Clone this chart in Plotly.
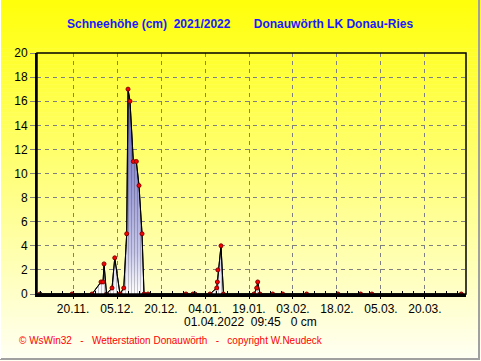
import plotly.graph_objects as go

# ---- data ----
times = [
    "2021-11-08 18:00", "2021-11-19 16:00", "2021-11-26 11:30",
    "2021-11-29 13:00", "2021-11-30 05:30", "2021-11-30 13:40", "2021-12-01 10:00",
    "2021-12-03 07:00", "2021-12-04 05:20", "2021-12-06 00:00",
    "2021-12-07 07:00", "2021-12-08 07:00", "2021-12-08 18:00", "2021-12-09 10:20",
    "2021-12-10 13:30", "2021-12-11 14:00", "2021-12-12 12:00", "2021-12-13 12:40",
    "2021-12-14 05:00", "2021-12-15 13:40", "2021-12-28 12:40", "2021-12-30 21:40",
    "2021-12-31 14:20", "2022-01-05 16:50", "2022-01-08 00:00", "2022-01-08 05:00",
    "2022-01-08 09:00", "2022-01-09 11:00", "2022-01-10 07:00", "2022-01-20 17:00",
    "2022-01-21 15:00", "2022-01-21 23:20", "2022-01-22 18:00", "2022-01-27 02:00",
    "2022-01-30 12:00", "2022-02-07 16:00", "2022-02-18 08:00", "2022-02-26 02:00",
    "2022-03-01 22:00", "2022-04-01 09:45",
]
snow_cm = [
    0, 0, 0,
    1.0, 1.0, 2.5, 0,
    0.5, 3.0, 0,
    0.5, 5.0, 17.0, 16.0,
    11.0, 11.0, 9.0, 5.0,
    0, 0, 0, 0,
    0, 0, 0.5, 1.0,
    2.0, 4.0, 0, 0,
    0.5, 1.0, 0, 0,
    0, 0, 0, 0,
    0, 0,
]
tick_dates = ["2021-11-20", "2021-12-05", "2021-12-20", "2022-01-04", "2022-01-19",
              "2022-02-03", "2022-02-18", "2022-03-05", "2022-03-20"]
tick_labels = ["20.11.", "05.12.", "20.12.", "04.01.", "19.01.",
               "03.02.", "18.02.", "05.03.", "20.03."]
y_ticks = list(range(0, 21, 2))
title_text = "Schneehöhe (cm)  2021/2022       Donauwörth LK Donau-Ries"
status_text = "01.04.2022  09:45   0 cm"
footer_text = "© WsWin32   -   Wetterstation Donauwörth   -   copyright W.Neudeck"

W, H = 481, 361
L, R, T, B = 37, 15, 53, 67
pw, ph = W - L - R, H - T - B

def px(x):
    return (x - L) / pw

def py(y):
    return (H - B - y) / ph

def nb(s):
    return s.replace(" ", "\u00a0")

fig = go.Figure()
fig.add_trace(go.Scatter(
    x=times, y=snow_cm, mode="lines",
    line=dict(color="black", width=1),
    fill="tozeroy",
    fillgradient=dict(type="vertical",
                      colorscale=[[0, "#ffffff"], [0.2, "#c8c8ec"], [1, "#5858b8"]],
                      start=0, stop=17),
    showlegend=False, hoverinfo="skip",
))
fig.add_trace(go.Scatter(
    x=times, y=snow_cm, mode="lines+markers",
    line=dict(color="black", width=1),
    fill="tozeroy", fillcolor="rgba(0,0,0,0)",
    fillpattern=dict(shape="|", size=3, solidity=0.25, fgcolor="rgba(0,0,0,0.55)",
                     bgcolor="rgba(0,0,0,0)"),
    marker=dict(color="#ff0000", size=4, line=dict(color="#800000", width=1)),
    showlegend=False, hoverinfo="x+y",
))

# background gradient bands (style only)
shapes = []
nb_bands = 90
for i in range(nb_bands):
    y0 = i * H / nb_bands
    y1 = (i + 1) * H / nb_bands + 0.5
    frac = (i + 0.5) / nb_bands
    b = int(10 + 235 * frac)
    shapes.append(dict(type="rect", xref="paper", yref="paper",
                       x0=px(0), x1=px(W), y0=py(y1), y1=py(y0),
                       fillcolor=f"rgb(255,255,{b})", line=dict(width=0), layer="below"))
# plot frame
shapes.append(dict(type="rect", xref="paper", yref="paper", x0=0, x1=1, y0=0, y1=1,
                   line=dict(color="black", width=1.5), layer="above"))
# window border
shapes.append(dict(type="line", xref="paper", yref="paper", x0=px(W - 2), x1=px(W - 2),
                   y0=py(0), y1=py(H - 1), line=dict(color="#a0a0a0", width=2)))
shapes.append(dict(type="line", xref="paper", yref="paper", x0=px(0), x1=px(W - 1),
                   y0=py(H - 2), y1=py(H - 2), line=dict(color="#a0a0a0", width=2)))
shapes.append(dict(type="line", xref="paper", yref="paper", x0=px(0.5), x1=px(0.5),
                   y0=py(0), y1=py(H - 2), line=dict(color="#ffffff", width=1)))

font_fam = "Liberation Sans, Arial, sans-serif"
annotations = [
    dict(text=nb(title_text), xref="paper", yref="paper", x=px(240), y=py(24),
         showarrow=False, xanchor="center", yanchor="middle",
         font=dict(family=font_fam, size=12, color="#1a1aff", weight="bold")),
    dict(text=nb(status_text), xref="paper", yref="paper", x=px(250), y=py(322),
         showarrow=False, xanchor="center", yanchor="middle",
         font=dict(family=font_fam, size=12, color="black")),
    dict(text=nb(footer_text), xref="paper", yref="paper", x=px(17), y=py(340),
         showarrow=False, xanchor="left", yanchor="middle",
         font=dict(family=font_fam, size=10, color="#ff0000")),
]

fig.update_layout(
    width=W, height=H,
    margin=dict(l=L, r=R, t=T, b=B, pad=0),
    paper_bgcolor="#ffffee", plot_bgcolor="rgba(0,0,0,0)",
    shapes=shapes, annotations=annotations,
    font=dict(family=font_fam, size=12, color="black"),
    xaxis=dict(type="date", range=["2021-11-07 17:00", "2022-04-03 00:00"],
               tickvals=tick_dates, ticktext=tick_labels, tickangle=0,
               showgrid=True, gridcolor="#808080", griddash="4px,4px", gridwidth=1,
               ticks="outside", ticklen=2, tickcolor="black",
               showline=True, linecolor="black", linewidth=3, zeroline=False,
               minor=dict(ticks="inside", ticklen=3, tickcolor="black",
                          dtick=3.75 * 86400000, tick0="2021-11-20", showgrid=False),
               tickfont=dict(size=12, color="black")),
    yaxis=dict(range=[0, 20], tickvals=y_ticks, showgrid=True, gridcolor="#808080",
               griddash="4px,4px", gridwidth=1, zeroline=False,
               ticks="outside", ticklen=5, tickcolor="#808080",
               showline=True, linecolor="black", linewidth=2,
               tickfont=dict(size=12, color="black")),
)

fig.write_html("out.html", config={"displayModeBar": False},
               post_script="document.body.style.margin='0';document.body.style.padding='0';")
